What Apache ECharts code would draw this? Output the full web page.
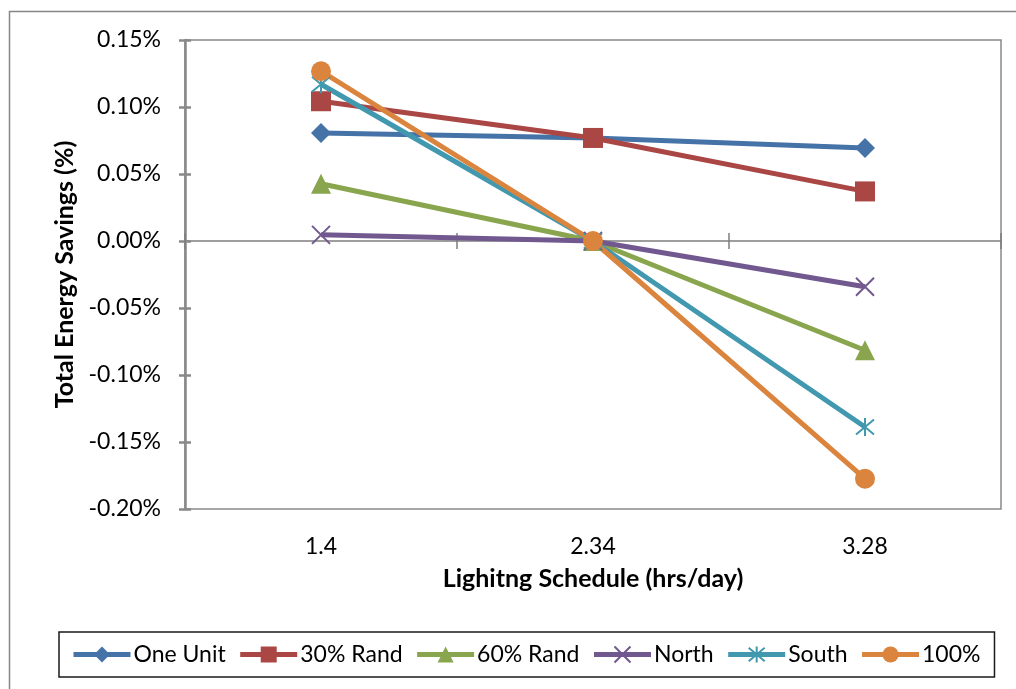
<!DOCTYPE html>
<html>
<head>
<meta charset="utf-8">
<script src="https://cdn.jsdelivr.net/npm/echarts@6/dist/echarts.min.js"></script>
<style>
html,body{margin:0;padding:0;background:#fff;}
#chart{width:1016px;height:689px;}
</style>
</head>
<body>
<div id="chart"></div>
<script>
const categories = ['1.4', '2.34', '3.28'];
const oneUnit  = [0.0806, 0.0769, 0.0694];
const rand30   = [0.1043, 0.0769, 0.0370];
const rand60   = [0.0427, 0.0000, -0.0815];
const north    = [0.0046, 0.0000, -0.0341];
const south    = [0.1170, 0.0000, -0.1388];
const full100  = [0.1267, 0.0000, -0.1774];
const seriesNames = ['One Unit', '30% Rand', '60% Rand', 'North', 'South', '100%'];
const yTicks = { min: -0.20, max: 0.15, interval: 0.05 };
const xTitle = 'Lighitng Schedule (hrs/day)';
const yTitle = 'Total Energy Savings (%)';

const FONT = 'Lato';
const AXIS_GRAY = '#898989';
const LINE_W = 5;

const chart = echarts.init(document.getElementById('chart'), null, { renderer: 'canvas' });

function mk(name, data, color, symbol, size, extra) {
  return Object.assign({
    name: name,
    type: 'line',
    data: data,
    xAxisIndex: 0,
    yAxisIndex: 0,
    symbol: symbol,
    symbolSize: size,
    showAllSymbol: true,
    lineStyle: { color: color, width: LINE_W },
    itemStyle: { color: color },
    emphasis: { disabled: true },
    animation: false
  }, extra || {});
}

const xCommon = {
  type: 'category',
  data: categories,
  boundaryGap: true
};

const option = {
  animation: false,
  textStyle: { fontFamily: FONT },
  graphic: [{
    type: 'rect',
    shape: { x: 9.5, y: 11.5, width: 1030, height: 700 },
    style: { fill: 'none', stroke: '#868686', lineWidth: 1.5 },
    silent: true
  }],
  grid: {
    left: 185, right: 15, top: 40, bottom: 180,
    show: true, borderColor: AXIS_GRAY, borderWidth: 1.5, backgroundColor: 'transparent'
  },
  xAxis: [
    Object.assign({}, xCommon, {
      position: 'bottom',
      axisLine: { show: false, onZero: false },
      axisTick: { show: false },
      axisLabel: { show: true, color: '#000', fontSize: 23, fontFamily: FONT, margin: 26 },
      name: xTitle,
      nameLocation: 'middle',
      nameGap: 57,
      nameTextStyle: { color: '#000', fontSize: 25, fontWeight: 'bold', fontFamily: FONT }
    }),
    Object.assign({}, xCommon, {
      position: 'bottom',
      axisLine: { show: true, onZero: true, onZeroAxisIndex: 0, lineStyle: { color: '#7f7f7f', width: 1.5 } },
      axisTick: { show: true, inside: false, length: 8, lineStyle: { color: '#7f7f7f', width: 1.5 } },
      axisLabel: { show: false }
    }),
    Object.assign({}, xCommon, {
      position: 'bottom',
      axisLine: { show: false, onZero: true, onZeroAxisIndex: 0 },
      axisTick: { show: true, inside: true, length: 8, lineStyle: { color: '#7f7f7f', width: 1.5 } },
      axisLabel: { show: false }
    })
  ],
  yAxis: [
    {
      type: 'value',
      min: yTicks.min, max: yTicks.max, interval: yTicks.interval,
      position: 'left',
      axisLine: { show: true, onZero: false, lineStyle: { color: AXIS_GRAY, width: 2.5 } },
      axisTick: { show: true, inside: false, length: 6, lineStyle: { color: AXIS_GRAY, width: 2.5 } },
      splitLine: { show: false },
      axisLabel: {
        color: '#000', fontSize: 23, fontFamily: FONT, margin: 24,
        formatter: v => v.toFixed(2) + '%'
      },
      name: yTitle,
      nameLocation: 'middle',
      nameGap: 106,
      nameRotate: 90,
      nameTextStyle: { color: '#000', fontSize: 25, fontWeight: 'bold', fontFamily: FONT }
    },
    {
      type: 'value',
      min: yTicks.min, max: yTicks.max, interval: yTicks.interval,
      position: 'left',
      axisLine: { show: false, onZero: false },
      axisTick: { show: true, inside: true, length: 6, lineStyle: { color: AXIS_GRAY, width: 2.5 } },
      splitLine: { show: false },
      axisLabel: { show: false }
    }
  ],
  legend: {
    data: seriesNames,
    left: 59, top: 632,
    padding: [11, 14, 11, 12],
    itemGap: 12,
    itemWidth: 57,
    itemHeight: 20,
    borderColor: '#1a1a1a',
    borderWidth: 1.5,
    lineStyle: { width: LINE_W },
    textStyle: { color: '#000', fontSize: 23, fontFamily: FONT, padding: [0, 0, 0, -2] },
    selectedMode: false
  },
  series: [
    mk(seriesNames[0], oneUnit, '#4572A7', 'diamond', 20),
    mk(seriesNames[1], rand30, '#AA4643', 'rect', 20),
    mk(seriesNames[2], rand60, '#89A54E', 'triangle', 20),
    mk(seriesNames[3], north, '#71588F', 'path://M0,0L20,20M20,0L0,20', 18,
      { itemStyle: { color: '#71588F', borderColor: '#71588F', borderWidth: 2 } }),
    mk(seriesNames[4], south, '#4198AF', 'path://M0,0L20,20M20,0L0,20M10,-2L10,22', 18,
      { itemStyle: { color: '#4198AF', borderColor: '#4198AF', borderWidth: 2 } }),
    mk(seriesNames[5], full100, '#DB843D', 'circle', 20)
  ]
};

chart.setOption(option);
</script>
</body>
</html>
